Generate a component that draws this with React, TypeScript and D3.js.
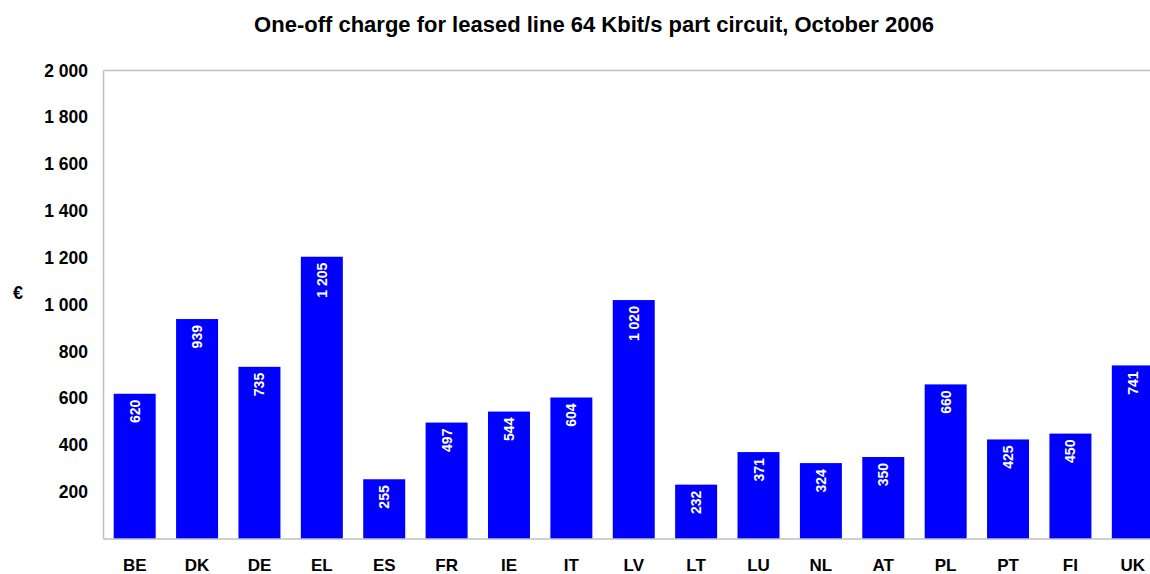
import { useEffect, useRef } from 'react';
import * as d3 from 'd3';

const countries = ['BE', 'DK', 'DE', 'EL', 'ES', 'FR', 'IE', 'IT', 'LV', 'LT', 'LU', 'NL', 'AT', 'PL', 'PT', 'FI', 'UK'];
const charges = [620, 939, 735, 1205, 255, 497, 544, 604, 1020, 232, 371, 324, 350, 660, 425, 450, 741];
const yTicks = [200, 400, 600, 800, 1000, 1200, 1400, 1600, 1800, 2000];

const fmt = (v: number) => d3.format(',')(v).replace(/,/g, ' ');

export default function App() {
  const ref = useRef<SVGSVGElement | null>(null);

  useEffect(() => {
    if (!ref.current) return;
    const width = 1150;
    const height = 574;
    const margin = { top: 70.5, right: -14, bottom: 35, left: 103.5 };
    const font = 'Liberation Sans, Arial, sans-serif';

    const svg = d3.select(ref.current);
    svg.selectAll('*').remove();

    const x = d3
      .scaleBand()
      .domain(countries)
      .range([margin.left, width - margin.right])
      .paddingInner(0.327)
      .paddingOuter(0.1635);

    const y = d3.scaleLinear().domain([0, 2000]).range([height - margin.bottom, margin.top]);

    svg
      .append('text')
      .attr('x', 594)
      .attr('y', 32)
      .attr('text-anchor', 'middle')
      .attr('font-family', font)
      .attr('font-weight', 'bold')
      .attr('font-size', 22)
      .text('One-off charge for leased line 64 Kbit/s part circuit, October 2006');

    // frame lines
    const g = svg.append('g').attr('stroke', '#c0c0c0').attr('stroke-width', 1.5);
    g.append('line').attr('x1', margin.left).attr('x2', margin.left).attr('y1', y(2000)).attr('y2', y(0));
    g.append('line').attr('x1', margin.left).attr('x2', width).attr('y1', y(2000)).attr('y2', y(2000));

    svg
      .append('g')
      .selectAll('rect')
      .data(charges)
      .join('rect')
      .attr('x', (_, i) => x(countries[i])!)
      .attr('y', (d) => y(d))
      .attr('width', x.bandwidth())
      .attr('height', (d) => y(0) - y(d))
      .attr('fill', '#0000ff');

    svg.append('line')
      .attr('x1', margin.left).attr('x2', width)
      .attr('y1', y(0)).attr('y2', y(0))
      .attr('stroke', '#c0c0c0').attr('stroke-width', 1.5);

    svg
      .append('g')
      .selectAll('text')
      .data(charges)
      .join('text')
      .attr('transform', (d, i) => `translate(${x(countries[i])! + x.bandwidth() / 2 + 5},${y(d) + 6}) rotate(-90)`)
      .attr('text-anchor', 'end')
      .attr('fill', '#fff')
      .attr('font-family', font)
      .attr('font-weight', 'bold')
      .attr('font-size', 14)
      .text((d) => fmt(d));

    svg
      .append('g')
      .selectAll('text')
      .data(yTicks)
      .join('text')
      .attr('x', 88)
      .attr('y', (d) => y(d) + 6)
      .attr('text-anchor', 'end')
      .attr('font-family', font)
      .attr('font-weight', 'bold')
      .attr('font-size', 17.5)
      .text((d) => fmt(d));

    svg
      .append('g')
      .selectAll('text')
      .data(countries)
      .join('text')
      .attr('x', (d) => x(d)! + x.bandwidth() / 2)
      .attr('y', 571)
      .attr('text-anchor', 'middle')
      .attr('font-family', font)
      .attr('font-weight', 'bold')
      .attr('font-size', 17)
      .text((d) => d);

    svg
      .append('text')
      .attr('x', 18)
      .attr('y', 299)
      .attr('text-anchor', 'middle')
      .attr('font-family', font)
      .attr('font-weight', 'bold')
      .attr('font-size', 18)
      .text('€');
  }, []);

  return (
    <svg
      ref={ref}
      width={1150}
      height={574}
      style={{ position: 'absolute', left: 0, top: 0, background: '#fff' }}
    />
  );
}
